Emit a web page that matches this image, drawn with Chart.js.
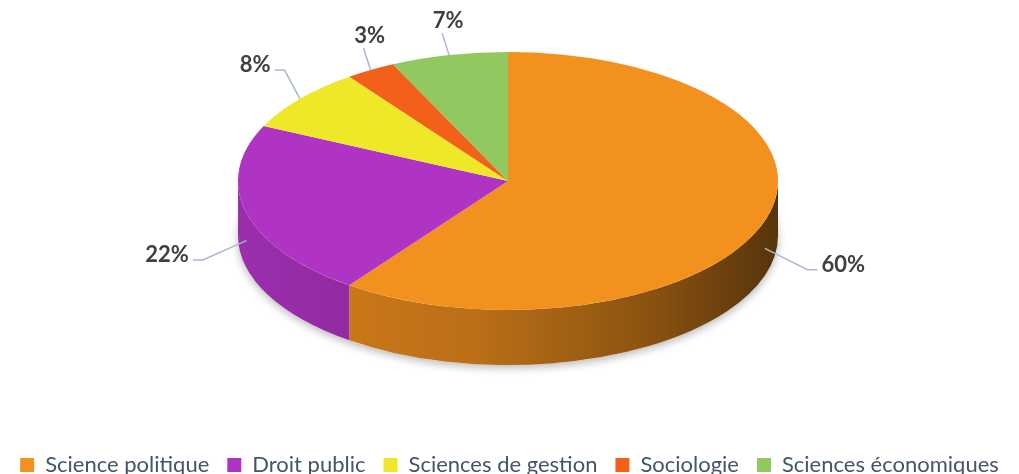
<!DOCTYPE html>
<html>
<head>
<meta charset="utf-8">
<script src="https://cdn.jsdelivr.net/npm/chart.js@4.4.1/dist/chart.umd.min.js"></script>
<style>
  html, body { margin: 0; padding: 0; background: #fff; overflow: hidden; }
  #wrap { width: 1019px; height: 474px; position: relative; }
</style>
</head>
<body>
<div id="wrap"><canvas id="chart"></canvas></div>
<script>
/* ================= DATA ================= */
const categories = ["Science politique", "Droit public", "Sciences de gestion", "Sociologie", "Sciences économiques"];
const shares = [60, 22, 8, 3, 7];
const shareLabels = ["60%", "22%", "8%", "3%", "7%"];
const sliceColors = ["#F3911E", "#B034C4", "#EEE828", "#F2601A", "#92C860"];

/* ================= 3D LOOK ================= */
// where the tilted disc sits on the page
const EX = 508, EY = 181, RX = 270, RY = 129, DEPTH = 55;

function shade(hex, f) {
  const n = parseInt(hex.slice(1), 16);
  const r = Math.round(((n >> 16) & 255) * f);
  const g = Math.round(((n >> 8) & 255) * f);
  const b = Math.round((n & 255) * f);
  return `rgb(${r},${g},${b})`;
}

const pie3d = {
  id: "pie3d",
  beforeDatasetsDraw(chart) {
    const ctx = chart.ctx;
    const arcs = chart.getDatasetMeta(0).data;

    // soft shadow under the disc
    ctx.save();
    ctx.shadowColor = "rgba(0,0,0,0.28)";
    ctx.shadowBlur = 8;
    ctx.shadowOffsetY = 3;
    ctx.fillStyle = "#fff";
    ctx.beginPath();
    ctx.ellipse(EX, EY + DEPTH, RX, RY, 0, 0, Math.PI * 2);
    ctx.fill();
    ctx.restore();

    // front wall, only the visible half
    arcs.forEach((arc, i) => {
      const a1 = Math.max(arc.startAngle, 0);
      const a2 = Math.min(arc.endAngle, Math.PI);
      if (a2 <= a1) return;
      const g = ctx.createLinearGradient(EX - RX, 0, EX + RX, 0);
      [[0, 0.88], [0.45, 0.76], [0.75, 0.58], [1, 0.36]].forEach(([p, f]) => {
        g.addColorStop(p, shade(sliceColors[i], f));
      });
      ctx.beginPath();
      ctx.ellipse(EX, EY, RX, RY, 0, a1, a2);
      ctx.lineTo(EX + RX * Math.cos(a2), EY + DEPTH + RY * Math.sin(a2));
      ctx.ellipse(EX, EY + DEPTH, RX, RY, 0, a2, a1, true);
      ctx.closePath();
      ctx.fillStyle = g;
      ctx.fill();
    });

    // squash the library's round pie into the top face
    const a = arcs[0];
    ctx.save();
    ctx.translate(EX, EY);
    ctx.scale(RX / a.outerRadius, RY / a.outerRadius);
    ctx.translate(-a.x, -a.y);
  },
  afterDatasetsDraw(chart) {
    const ctx = chart.ctx;
    ctx.restore();

    const arcs = chart.getDatasetMeta(0).data;
    ctx.save();
    ctx.strokeStyle = "#A9B9CF";
    ctx.lineWidth = 1.5;
    ctx.fillStyle = "#404040";
    ctx.font = "bold 22px Lato";
    ctx.textBaseline = "middle";

    arcs.forEach((arc, i) => {
      const m = (arc.startAngle + arc.endAngle) / 2;
      const c = Math.cos(m), s = Math.sin(m);
      const px = EX + RX * c;
      const py = EY + RY * s + (s > 0 ? DEPTH / 2 : 0);

      ctx.beginPath();
      ctx.moveTo(px, py);
      if (s < -0.8) {
        // labels on the back rim sit right above
        const qx = px - 7, qy = py - 22;
        ctx.lineTo(qx, qy);
        ctx.stroke();
        ctx.textAlign = "center";
        ctx.fillText(shareLabels[i], qx + 6, qy - 12);
      } else {
        const dir = c >= 0 ? 1 : -1;
        const qx = px + c * (s < 0 ? 20 : 45);
        const qy = s < 0 ? py + s * 45 : py + s * 30 + 12;
        const rx = qx + dir * 10;
        ctx.lineTo(qx, qy);
        ctx.lineTo(rx, qy);
        ctx.stroke();
        ctx.textAlign = dir > 0 ? "left" : "right";
        ctx.fillText(shareLabels[i], rx + dir * 4, qy - 5);
      }
    });
    ctx.restore();
  }
};

/* ================= CHART ================= */
Chart.defaults.font.family = "Lato";

new Chart(document.getElementById("chart"), {
  type: "pie",
  data: {
    labels: categories,
    datasets: [{
      data: shares,
      backgroundColor: sliceColors,
      borderWidth: 0,
      clip: false
    }]
  },
  options: {
    responsive: true,
    maintainAspectRatio: false,
    animation: false,
    events: [],
    layout: { padding: { bottom: -12 } },
    plugins: {
      legend: {
        position: "bottom",
        labels: {
          boxWidth: 14,
          boxHeight: 14,
          padding: 18,
          color: "#44546A",
          font: { size: 22 }
        }
      },
      tooltip: { enabled: false }
    }
  },
  plugins: [pie3d]
});
</script>
</body>
</html>
